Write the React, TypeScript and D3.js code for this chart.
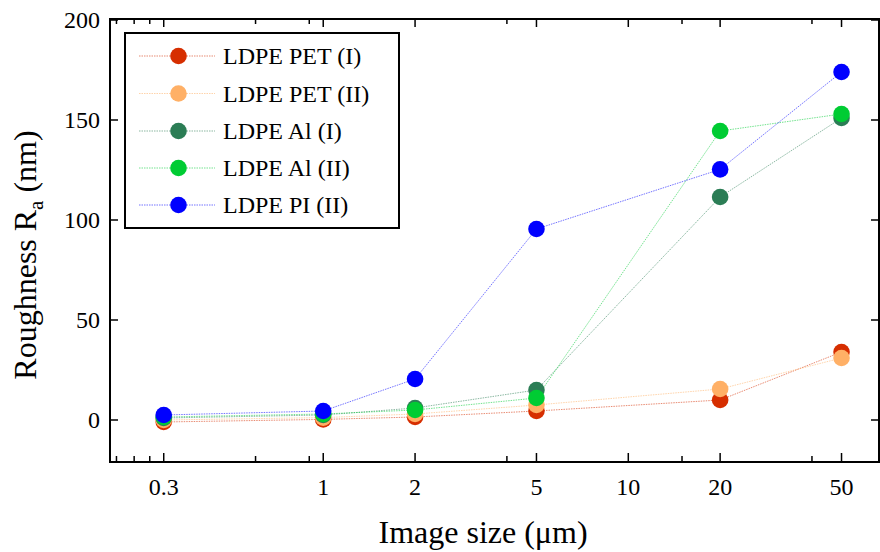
import React from "react";
import * as d3 from "d3";

const sizes = [0.3, 1, 2, 5, 20, 50];
const seriesNames = ["LDPE PET (I)", "LDPE PET (II)", "LDPE Al (I)", "LDPE Al (II)", "LDPE PI (II)"];
const petI = [-1, 0.3, 1.5, 4.5, 10, 34];
const petII = [0, 1.2, 3, 7.5, 15.5, 31];
const alI = [1, 2.5, 6, 15, 111.5, 151];
const alII = [1.5, 3, 5, 11, 144.5, 153];
const piII = [2.5, 4.5, 20.5, 95.5, 125.3, 174];
const colors = ["#d62e00", "#ffb066", "#2b7d55", "#00cc33", "#0000ff"];
const xMajor = [0.3, 1, 2, 5, 10, 20, 50];
const xMinor = [0.21, 0.24, 0.27, 0.6, 0.9, 4, 15, 40];
const yTicks = [0, 50, 100, 150, 200];

const W = 880, H = 552;
const L = 110, R = 879, T = 19, B = 462;
const FONT = "'Liberation Serif', 'Times New Roman', serif";

export default function App() {
  const x = d3.scaleLog().domain([0.2, 67]).range([L, 880.3]);
  const y = d3.scaleLinear().domain([-21, 200.5]).range([B, T]);
  const allSeries = [petI, petII, alI, alII, piII];
  const line = d3.line<number>().x((_, i) => x(sizes[i])).y((v) => y(v));
  const legY = [56, 93.5, 131, 168, 205];
  return (
    <div style={{ position: "fixed", left: 0, top: 0 }}>
      <svg width={W} height={H} style={{ display: "block", background: "#fff" }}>
        {allSeries.map((s, k) => (
          <path key={"l" + k} d={line(s) || ""} fill="none" stroke={colors[k]} strokeWidth={1} strokeOpacity={0.55} strokeDasharray="1.5 1" />
        ))}
        {allSeries.map((s, k) =>
          s.map((v, i) => <circle key={"c" + k + "-" + i} cx={x(sizes[i])} cy={y(v)} r={8.3} fill={colors[k]} />)
        )}
        <rect x={L} y={T} width={R - L} height={B - T} fill="none" stroke="#000" strokeWidth={2} />
        {xMajor.map((t) => (
          <g key={"xm" + t}>
            <line x1={x(t)} x2={x(t)} y1={B} y2={B - 9} stroke="#000" strokeWidth={1.5} />
            <line x1={x(t)} x2={x(t)} y1={T} y2={T + 8} stroke="#000" strokeWidth={1.5} />
            <text x={x(t)} y={495} textAnchor="middle" fontFamily={FONT} fontSize={24}>{String(t)}</text>
          </g>
        ))}
        {xMinor.map((t) => (
          <g key={"xn" + t}>
            <line x1={x(t)} x2={x(t)} y1={B} y2={B - 6} stroke="#000" strokeWidth={1.5} />
            <line x1={x(t)} x2={x(t)} y1={T} y2={T + 5} stroke="#000" strokeWidth={1.5} />
          </g>
        ))}
        {yTicks.map((t) => (
          <g key={"y" + t}>
            <line x1={L} x2={L + 8} y1={y(t)} y2={y(t)} stroke="#000" strokeWidth={1.5} />
            <line x1={R} x2={R - 8} y1={y(t)} y2={y(t)} stroke="#000" strokeWidth={1.5} />
            <text x={100} y={y(t) + 8} textAnchor="end" fontFamily={FONT} fontSize={24}>{String(t)}</text>
          </g>
        ))}
        <text x={483} y={543} textAnchor="middle" fontFamily={FONT} fontSize={32}>Image size (μm)</text>
        <text transform="translate(36,255) rotate(-90)" textAnchor="middle" fontFamily={FONT} fontSize={32}>
          Roughness R<tspan fontSize={21} dy={7}>a</tspan><tspan dy={-7}> (nm)</tspan>
        </text>
        <rect x={125} y={33} width={274} height={195} fill="#fff" stroke="#000" strokeWidth={2} />
        {seriesNames.map((n, k) => (
          <g key={"lg" + k}>
            <line x1={139} x2={215} y1={legY[k]} y2={legY[k]} stroke={colors[k]} strokeWidth={1} strokeOpacity={0.55} strokeDasharray="1.5 1" />
            <circle cx={178.5} cy={legY[k]} r={8.3} fill={colors[k]} />
            <text x={223} y={legY[k] + 8} fontFamily={FONT} fontSize={24}>{n}</text>
          </g>
        ))}
      </svg>
    </div>
  );
}
